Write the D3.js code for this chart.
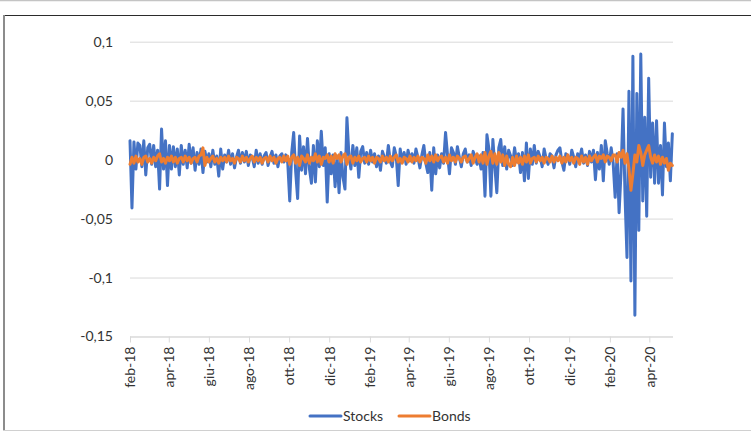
<!DOCTYPE html>
<html>
<head>
<meta charset="utf-8">
<script src="https://cdn.jsdelivr.net/npm/d3@7"></script>
<style>
  body { margin: 0; background: #fff; }
  svg { display: block; }
  text { font-family: Lato, "Open Sans", sans-serif; }
</style>
</head>
<body>
<svg id="chart" width="751" height="431"></svg>
<script>
// Daily returns, sampled every third calendar day from the start date
const startDate = new Date(2018, 1, 1);
const endDate = new Date(2020, 4, 7);
const stepDays = 3;

const seriesNames = ["Stocks", "Bonds"];
const seriesColors = ["#4472C4", "#ED7D31"];

const yTicks = [0.1, 0.05, 0, -0.05, -0.1, -0.15];
const yTickLabels = ["0,1", "0,05", "0", "-0,05", "-0,1", "-0,15"];

const xTickLabels = ["feb-18", "apr-18", "giu-18", "ago-18", "ott-18", "dic-18",
  "feb-19", "apr-19", "giu-19", "ago-19", "ott-19", "dic-19", "feb-20", "apr-20"];

const stocks = [
  0.016, -0.041, 0.015, -0.008, 0.014, 0.012, -0.006, 0.016, -0.013, 0.010,
  0.013, -0.004, 0.012, -0.006, 0.008, -0.025, 0.026, -0.008, 0.016, -0.022,
  0.012, -0.008, 0.011, -0.006, 0.009, -0.013, 0.012, -0.004, 0.008, -0.007,
  0.013, -0.003, 0.010, -0.009, 0.006, -0.004, 0.009, -0.011, 0.007, -0.002,
  0.005, -0.006, 0.008, -0.004, 0.003, -0.014, 0.009, -0.008, 0.004, -0.002,
  0.008, -0.004, 0.005, -0.007, 0.002, 0.008, -0.003, 0.006, -0.002, 0.007,
  -0.005, 0.004, 0.002, -0.006, 0.008, -0.003, 0.005, -0.004, 0.003, 0.006,
  -0.005, 0.002, 0.007, -0.003, 0.004, -0.006, 0.003, 0.005, -0.002, 0.004,
  -0.003, -0.035, 0.006, 0.023, -0.010, -0.033, 0.020, -0.009, 0.011, -0.012,
  0.018, -0.008, -0.020, 0.012, -0.019, 0.016, -0.006, 0.024, -0.005, 0.010,
  -0.036, 0.005, -0.012, 0.004, -0.023, 0.003, -0.028, 0.006, -0.015, -0.025,
  0.0355, 0.004, -0.008, 0.012, -0.005, 0.010, -0.015, 0.007, 0.011, -0.003,
  0.006, -0.004, 0.008, -0.002, 0.005, -0.006, 0.003, -0.009, 0.007, 0.002,
  -0.003, 0.012, -0.002, -0.006, 0.010, 0.003, -0.022, 0.009, -0.002, 0.006,
  -0.004, 0.008, -0.001, 0.005, -0.003, 0.009, 0.002, -0.007, 0.004, 0.012,
  -0.003, -0.011, 0.006, -0.026, 0.010, -0.012, 0.004, -0.007, 0.005, -0.003,
  0.023, 0.004, -0.012, 0.010, 0.006, -0.004, 0.011, 0.002, -0.006, 0.005,
  0.009, -0.002, 0.004, -0.005, 0.007, 0.002, -0.004, 0.003, -0.008, 0.006,
  -0.031, 0.021, 0.009, -0.031, 0.017, -0.006, -0.028, 0.010, 0.017, -0.005,
  0.011, -0.008, 0.008, 0.003, -0.005, 0.010, -0.002, 0.005, -0.011, 0.006,
  -0.018, 0.014, -0.016, 0.009, -0.004, 0.012, -0.003, 0.007, 0.002, -0.006,
  0.009, 0.001, -0.004, 0.005, 0.003, -0.007, 0.004, 0.008, 0.010, -0.002,
  -0.009, 0.005, 0.003, -0.004, 0.008, 0.002, -0.006, 0.005, 0.001, 0.009,
  -0.003, 0.004, -0.005, 0.007, -0.002, 0.008, -0.017, 0.006, -0.008, 0.012,
  -0.018, 0.016, 0.005, -0.004, 0.010, -0.003, -0.032, 0.005, -0.045, -0.010,
  0.043, -0.030, -0.083, 0.058, -0.103, 0.0876, -0.132, 0.056, -0.060, 0.0896,
  -0.035, 0.036, -0.048, 0.069, -0.015, 0.031, -0.020, 0.033, -0.020, 0.012,
  -0.030, 0.031, -0.006, 0.014, -0.018, 0.022
];

const bonds = [
  -0.004, 0.002, -0.003, 0.003, -0.002, 0.001, -0.004, 0.002, 0.003, -0.002,
  0.001, -0.003, 0.002, -0.001, 0.003, 0.005, -0.002, 0.001, -0.003, 0.002,
  -0.001, 0.003, -0.002, 0.002, -0.003, 0.001, 0.002, -0.002, 0.003, -0.001,
  0.002, -0.003, 0.001, 0.002, -0.002, 0.003, 0.004, 0.010, -0.005, 0.002,
  -0.002, 0.001, 0.003, -0.002, 0.001, -0.003, 0.002, -0.001, 0.002, -0.002,
  0.003, -0.001, 0.001, -0.003, 0.002, 0.001, -0.002, 0.003, -0.001, 0.002,
  -0.002, 0.001, 0.003, -0.002, 0.002, -0.001, 0.002, -0.003, 0.001, 0.002,
  -0.002, 0.003, -0.001, 0.002, -0.003, 0.001, 0.002, -0.002, 0.003, -0.001,
  0.003, -0.004, 0.002, 0.004, -0.003, 0.002, -0.005, 0.003, 0.001, -0.002,
  0.004, -0.003, 0.002, -0.001, 0.005, -0.002, 0.003, -0.004, 0.002, 0.001,
  0.004, -0.002, 0.003, -0.003, 0.005, 0.001, 0.004, -0.002, 0.003, 0.005,
  -0.004, 0.002, 0.003, -0.003, 0.002, -0.001, 0.003, -0.002, 0.001, 0.002,
  -0.002, 0.003, -0.001, 0.002, -0.003, 0.002, 0.001, -0.002, 0.003, -0.001,
  0.002, -0.002, 0.003, -0.001, 0.002, 0.004, -0.002, 0.001, -0.003, 0.002,
  0.001, -0.002, 0.003, -0.002, 0.002, -0.001, 0.003, -0.002, 0.002, 0.001,
  -0.003, 0.004, -0.001, 0.003, -0.002, 0.004, -0.001, 0.002, 0.003, -0.002,
  0.002, -0.003, 0.004, -0.001, 0.002, -0.002, 0.003, 0.001, -0.002, 0.002,
  0.003, -0.002, 0.001, 0.004, -0.003, 0.002, 0.005, -0.002, 0.004, -0.003,
  0.006, -0.004, 0.003, 0.007, -0.003, 0.005, -0.004, 0.006, -0.002, 0.004,
  -0.005, 0.003, -0.004, -0.006, 0.002, -0.005, 0.003, -0.003, 0.002, -0.004,
  0.003, -0.002, 0.004, -0.003, 0.001, 0.002, -0.002, 0.003, -0.001, 0.002,
  -0.003, 0.002, 0.001, -0.002, 0.003, -0.002, 0.002, -0.001, 0.003, -0.003,
  0.002, -0.002, 0.004, -0.001, 0.002, -0.003, 0.002, 0.001, -0.004, 0.003,
  -0.002, 0.002, -0.004, 0.003, -0.001, 0.002, 0.004, -0.002, 0.003, 0.001,
  0.004, -0.002, 0.003, 0.002, -0.001, 0.004, 0.004, -0.002, 0.006, 0.002,
  0.008, -0.003, 0.005, -0.008, -0.026, -0.012, 0.004, -0.002, 0.012, 0.006,
  -0.005, 0.004, 0.008, 0.012, 0.002, -0.003, 0.004, -0.002, 0.003, -0.004,
  0.002, -0.003, 0.001, -0.009, -0.003, -0.005
];

const svg = d3.select("#chart");

// Frame around the chart object
svg.append("line").attr("x1", 0).attr("x2", 751).attr("y1", 0.5).attr("y2", 0.5)
  .attr("stroke", "#c4c4c4").attr("stroke-width", 1.5);
svg.append("line").attr("x1", 3).attr("x2", 751).attr("y1", 15.5).attr("y2", 15.5)
  .attr("stroke", "#2b2b2b").attr("stroke-width", 1);
svg.append("line").attr("x1", 4).attr("x2", 4).attr("y1", 15).attr("y2", 431)
  .attr("stroke", "#8c8c8c").attr("stroke-width", 2);
svg.append("line").attr("x1", 3).attr("x2", 751).attr("y1", 430.5).attr("y2", 430.5)
  .attr("stroke", "#d0d0d0").attr("stroke-width", 1);

const plot = { left: 130, right: 673, top: 41.7, bottom: 336.5 };

const x = d3.scaleTime().domain([startDate, endDate]).range([plot.left, plot.right]);
const y = d3.scaleLinear().domain([-0.15, 0.1]).range([plot.bottom, plot.top]);

// Horizontal gridlines and value labels
const yAxis = d3.axisLeft(y).tickValues(yTicks).tickSize(-(plot.right - plot.left))
  .tickFormat((d, i) => yTickLabels[i]).tickPadding(17);
const gy = svg.append("g").attr("transform", `translate(${plot.left},0)`).call(yAxis);
gy.select(".domain").remove();
gy.selectAll(".tick line").attr("stroke", "#d9d9d9").attr("stroke-width", 1);
gy.selectAll(".tick text").attr("fill", "#333").style("font-size", "14px");

// Date axis: a tick every two months
const xTickDates = d3.timeMonths(startDate, endDate, 2);
const xAxis = d3.axisBottom(x).tickValues(xTickDates).tickSize(6)
  .tickFormat((d, i) => xTickLabels[i]);
const gx = svg.append("g").attr("transform", `translate(0,${plot.bottom})`).call(xAxis);
gx.select(".domain").attr("stroke", "#d9d9d9").attr("d", `M${plot.left},0.5H${plot.right}`);
gx.selectAll(".tick line").attr("stroke", "#d9d9d9");
gx.selectAll(".tick text")
  .attr("fill", "#333").style("font-size", "14px")
  .attr("text-anchor", "end")
  .attr("transform", "rotate(-90)")
  .attr("x", -10).attr("y", 0).attr("dy", "0.35em");

// Series lines
const dates = stocks.map((_, i) => d3.timeDay.offset(startDate, i * stepDays));
const line = d3.line().x((d, i) => x(dates[i])).y(d => y(d));

[stocks, bonds].forEach((vals, k) => {
  svg.append("path")
    .datum(vals)
    .attr("d", line)
    .attr("fill", "none")
    .attr("stroke", seriesColors[k])
    .attr("stroke-width", 3)
    .attr("stroke-linejoin", "round")
    .attr("stroke-linecap", "round");
});

// Legend
const legendItems = [{ x: 310 }, { x: 399 }];
const lg = svg.append("g");
legendItems.forEach((it, k) => {
  lg.append("line").attr("x1", it.x).attr("x2", it.x + 31).attr("y1", 416).attr("y2", 416)
    .attr("stroke", seriesColors[k]).attr("stroke-width", 3).attr("stroke-linecap", "round");
  lg.append("text").attr("x", it.x + 33).attr("y", 416).attr("dy", "0.35em")
    .attr("fill", "#333").style("font-size", "14px").text(seriesNames[k]);
});
</script>
</body>
</html>
